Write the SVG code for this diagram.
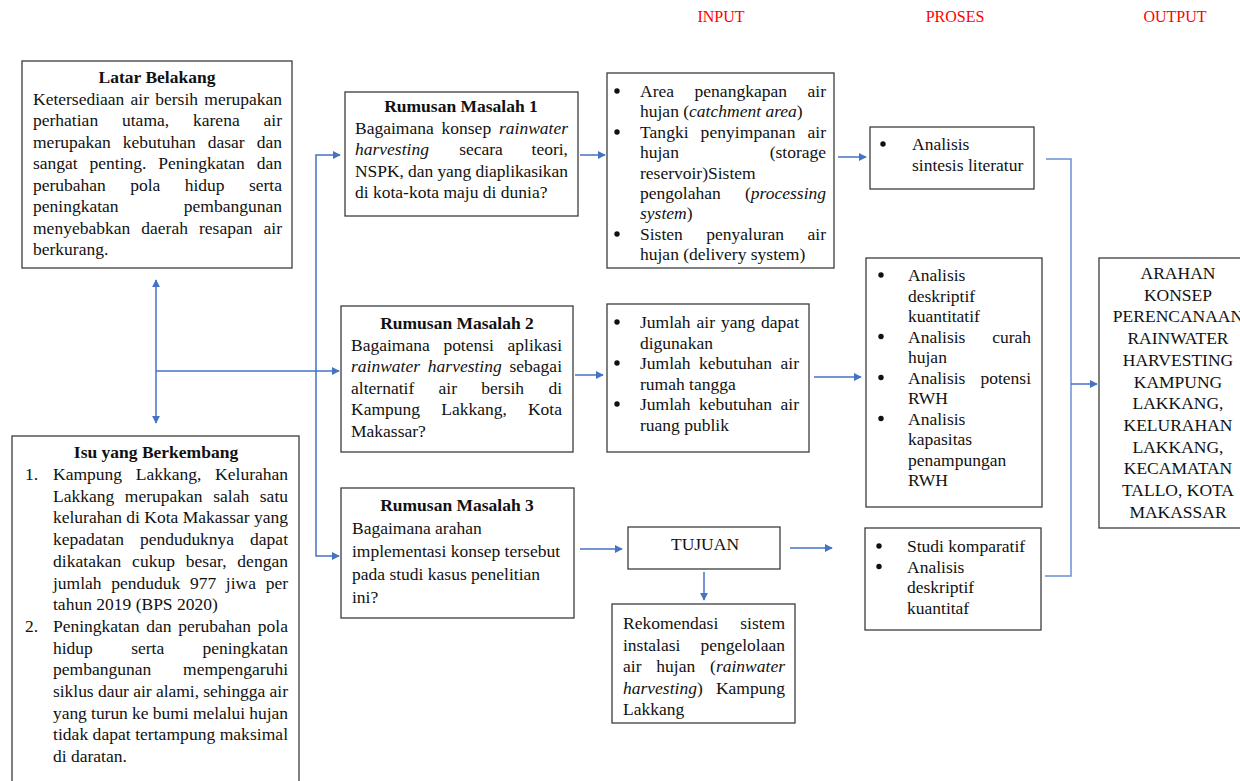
<svg xmlns="http://www.w3.org/2000/svg" width="1240" height="781" viewBox="0 0 1240 781">
<style>
.t{font-family:"Liberation Serif","Times New Roman",serif;font-size:17.5px;fill:#111}
.b{font-weight:bold}
.i{font-style:italic}
.c{text-anchor:middle}
.e{text-anchor:end}
.bu{fill:#111}
.h{font-family:"Liberation Serif","Times New Roman",serif;font-size:16px;fill:#ff0000;text-anchor:middle}
.box{fill:#fff;stroke:#3c3c3c;stroke-width:1.3}
.ln{fill:none;stroke:#4472c4;stroke-width:1.5}
.ln2{fill:none;stroke:#6a8fd4;stroke-width:1.5}
</style>
<defs>
<marker id="ah" viewBox="0 0 10 10" refX="9" refY="5" markerWidth="8" markerHeight="8" markerUnits="userSpaceOnUse" orient="auto-start-reverse">
<path d="M0,0 L10,5 L0,10 z" fill="#4472c4"/>
</marker>
</defs>
<rect width="1240" height="781" fill="#fff"/>

<g id="headings">
<text class="h" x="721" y="22">INPUT</text>
<text class="h" x="955" y="22">PROSES</text>
<text class="h" x="1175" y="22">OUTPUT</text>
</g>

<g id="connectors">
<path class="ln" d="M156,280 L156,423" marker-start="url(#ah)" marker-end="url(#ah)"/>
<path class="ln" d="M156,371 L339,371" marker-end="url(#ah)"/>
<path class="ln" d="M340,155 L316,155 L316,556 L339,556" marker-start="url(#ah)" marker-end="url(#ah)"/>
<path class="ln" d="M580,155 L605,155" marker-end="url(#ah)"/>
<path class="ln" d="M838,157 L866,157" marker-end="url(#ah)"/>
<path class="ln" d="M575,375 L603,375" marker-end="url(#ah)"/>
<path class="ln" d="M814,377 L861,377" marker-end="url(#ah)"/>
<path class="ln" d="M580,549 L622,549" marker-end="url(#ah)"/>
<path class="ln" d="M790,548 L832,548" marker-end="url(#ah)"/>
<path class="ln" d="M704,572 L704,600" marker-end="url(#ah)"/>
<path class="ln2" d="M1046,159 L1071,159 L1071,576 L1045,576"/>
<path class="ln" d="M1071,384 L1097,384" marker-end="url(#ah)"/>
</g>

<g id="latar-belakang">
<rect class="box" x="22" y="61" width="270" height="207"/>
<text class="t b c" x="157" y="83">Latar Belakang</text>
<text class="t" x="33" y="104.5" textLength="249" lengthAdjust="spacing" style="word-spacing:1.9px">Ketersediaan air bersih merupakan</text>
<text class="t" x="33" y="126" textLength="249" lengthAdjust="spacing" style="word-spacing:19.5px">perhatian utama, karena air</text>
<text class="t" x="33" y="147.5" textLength="249" lengthAdjust="spacing" style="word-spacing:7.7px">merupakan kebutuhan dasar dan</text>
<text class="t" x="33" y="169" textLength="249" lengthAdjust="spacing" style="word-spacing:7.5px">sangat penting. Peningkatan dan</text>
<text class="t" x="33" y="190.5" textLength="249" lengthAdjust="spacing" style="word-spacing:20px">perubahan pola hidup serta</text>
<text class="t" x="33" y="212">peningkatan</text><text class="t e" x="282" y="212">pembangunan</text>
<text class="t" x="33" y="233.5" textLength="249" lengthAdjust="spacing" style="word-spacing:6.7px">menyebabkan daerah resapan air</text>
<text class="t" x="33" y="255">berkurang.</text>
</g>

<g id="isu-berkembang">
<rect class="box" x="12" y="436" width="287" height="360"/>
<text class="t b c" x="156" y="458">Isu yang Berkembang</text>
<text class="t" x="25" y="480">1.</text>
<text class="t" x="53" y="480" textLength="235" lengthAdjust="spacing" style="word-spacing:9.4px">Kampung Lakkang, Kelurahan</text>
<text class="t" x="53" y="501.7" textLength="235" lengthAdjust="spacing" style="word-spacing:6.3px">Lakkang merupakan salah satu</text>
<text class="t" x="53" y="523.4" textLength="235" lengthAdjust="spacing">kelurahan di Kota Makassar yang</text>
<text class="t" x="53" y="545.1" textLength="235" lengthAdjust="spacing" style="word-spacing:11.6px">kepadatan penduduknya dapat</text>
<text class="t" x="53" y="566.8" textLength="235" lengthAdjust="spacing" style="word-spacing:6.4px">dikatakan cukup besar, dengan</text>
<text class="t" x="53" y="588.5" textLength="235" lengthAdjust="spacing" style="word-spacing:5.3px">jumlah penduduk 977 jiwa per</text>
<text class="t" x="53" y="610.2">tahun 2019 (BPS 2020)</text>
<text class="t" x="25" y="631.9">2.</text>
<text class="t" x="53" y="631.9" textLength="235" lengthAdjust="spacing" style="word-spacing:2.4px">Peningkatan dan perubahan pola</text>
<text class="t" x="53" y="653.6" textLength="235" lengthAdjust="spacing" style="word-spacing:33.9px">hidup serta peningkatan</text>
<text class="t" x="53" y="675.3">pembangunan</text><text class="t e" x="288" y="675.3">mempengaruhi</text>
<text class="t" x="53" y="697" textLength="235" lengthAdjust="spacing">siklus daur air alami, sehingga air</text>
<text class="t" x="53" y="718.7" textLength="235" lengthAdjust="spacing">yang turun ke bumi melalui hujan</text>
<text class="t" x="53" y="740.4" textLength="235" lengthAdjust="spacing">tidak dapat tertampung maksimal</text>
<text class="t" x="53" y="762.1">di daratan.</text>
</g>

<g id="rumusan-1">
<rect class="box" x="345" y="92" width="233" height="124"/>
<text class="t b c" x="461" y="112">Rumusan Masalah 1</text>
<text class="t" x="355" y="133.5" textLength="213" lengthAdjust="spacing" style="word-spacing:3.5px">Bagaimana konsep <tspan class="i">rainwater</tspan></text>
<text class="t i" x="355" y="155">harvesting</text><text class="t c" x="481" y="155">secara</text><text class="t e" x="568" y="155">teori,</text>
<text class="t" x="355" y="176.5" textLength="213" lengthAdjust="spacing">NSPK, dan yang diaplikasikan</text>
<text class="t" x="355" y="198">di kota-kota maju di dunia?</text>
</g>

<g id="rumusan-2">
<rect class="box" x="341" y="306" width="232" height="146"/>
<text class="t b c" x="457" y="329">Rumusan Masalah 2</text>
<text class="t" x="351" y="350.5" textLength="211" lengthAdjust="spacing" style="word-spacing:9.3px">Bagaimana potensi aplikasi</text>
<text class="t" x="351" y="372" textLength="211" lengthAdjust="spacing" style="word-spacing:3.4px"><tspan class="i">rainwater harvesting</tspan> sebagai</text>
<text class="t" x="351" y="393.5" textLength="211" lengthAdjust="spacing" style="word-spacing:19.9px">alternatif air bersih di</text>
<text class="t" x="351" y="415" textLength="211" lengthAdjust="spacing" style="word-spacing:16.8px">Kampung Lakkang, Kota</text>
<text class="t" x="351" y="436.5">Makassar?</text>
</g>

<g id="rumusan-3">
<rect class="box" x="341" y="488" width="233" height="130"/>
<text class="t b c" x="457" y="511">Rumusan Masalah 3</text>
<text class="t" x="352" y="534">Bagaimana arahan</text>
<text class="t" x="352" y="557">implementasi konsep tersebut</text>
<text class="t" x="352" y="580">pada studi kasus penelitian</text>
<text class="t" x="352" y="603">ini?</text>
</g>

<g id="input-1">
<rect class="box" x="607" y="73" width="227" height="195"/>
<circle class="bu" cx="617" cy="91" r="2.7"/>
<text class="t" x="640" y="97" textLength="186" lengthAdjust="spacing" style="word-spacing:16.2px">Area penangkapan air</text>
<text class="t" x="640" y="117.4">hujan (<tspan class="i">catchment area</tspan>)</text>
<circle class="bu" cx="617" cy="132" r="2.7"/>
<text class="t" x="640" y="137.8" textLength="186" lengthAdjust="spacing" style="word-spacing:7.5px">Tangki penyimpanan air</text>
<text class="t" x="640" y="158.2">hujan</text><text class="t e" x="826" y="158.2">(storage</text>
<text class="t" x="640" y="178.6">reservoir)Sistem</text>
<text class="t" x="640" y="199">pengolahan</text><text class="t e" x="826" y="199">(<tspan class="i">processing</tspan></text>
<text class="t" x="640" y="219.4"><tspan class="i">system</tspan>)</text>
<circle class="bu" cx="617" cy="234" r="2.7"/>
<text class="t" x="640" y="239.8" textLength="186" lengthAdjust="spacing" style="word-spacing:19.1px">Sisten penyaluran air</text>
<text class="t" x="640" y="260.2">hujan (delivery system)</text>
</g>

<g id="input-2">
<rect class="box" x="607" y="304" width="202" height="148"/>
<circle class="bu" cx="617" cy="322" r="2.7"/>
<text class="t" x="640" y="328" textLength="159" lengthAdjust="spacing" style="word-spacing:1.7px">Jumlah air yang dapat</text>
<text class="t" x="640" y="348.5">digunakan</text>
<circle class="bu" cx="617" cy="363" r="2.7"/>
<text class="t" x="640" y="369" textLength="159" lengthAdjust="spacing" style="word-spacing:4.2px">Jumlah kebutuhan air</text>
<text class="t" x="640" y="389.5">rumah tangga</text>
<circle class="bu" cx="617" cy="404" r="2.7"/>
<text class="t" x="640" y="410" textLength="159" lengthAdjust="spacing" style="word-spacing:4.2px">Jumlah kebutuhan air</text>
<text class="t" x="640" y="430.5">ruang publik</text>
</g>

<g id="tujuan">
<rect class="box" x="628" y="527" width="152" height="42"/>
<text class="t c" x="705" y="550">TUJUAN</text>
</g>

<g id="rekomendasi">
<rect class="box" x="612" y="604" width="183" height="119"/>
<text class="t" x="623" y="629">Rekomendasi</text><text class="t e" x="785" y="629">sistem</text>
<text class="t" x="623" y="650.5">instalasi</text><text class="t e" x="785" y="650.5">pengelolaan</text>
<text class="t" x="623" y="672" textLength="162" lengthAdjust="spacing" style="word-spacing:10.5px">air hujan (<tspan class="i">rainwater</tspan></text>
<text class="t" x="623" y="693.5"><tspan class="i">harvesting</tspan>)</text><text class="t e" x="785" y="693.5">Kampung</text>
<text class="t" x="623" y="715">Lakkang</text>
</g>

<g id="proses-1">
<rect class="box" x="870" y="127" width="164" height="62"/>
<circle class="bu" cx="883" cy="144" r="2.7"/>
<text class="t" x="912" y="150">Analisis</text>
<text class="t" x="912" y="171">sintesis literatur</text>
</g>

<g id="proses-2">
<rect class="box" x="866" y="258" width="176" height="249"/>
<circle class="bu" cx="881" cy="275" r="2.7"/>
<text class="t" x="908" y="281">Analisis</text>
<text class="t" x="908" y="301.5">deskriptif</text>
<text class="t" x="908" y="322">kuantitatif</text>
<circle class="bu" cx="881" cy="336.5" r="2.7"/>
<text class="t" x="908" y="342.5">Analisis</text><text class="t e" x="1031" y="342.5">curah</text>
<text class="t" x="908" y="363">hujan</text>
<circle class="bu" cx="881" cy="377.5" r="2.7"/>
<text class="t" x="908" y="383.5">Analisis</text><text class="t e" x="1031" y="383.5">potensi</text>
<text class="t" x="908" y="404">RWH</text>
<circle class="bu" cx="881" cy="418.5" r="2.7"/>
<text class="t" x="908" y="424.5">Analisis</text>
<text class="t" x="908" y="445">kapasitas</text>
<text class="t" x="908" y="465.5">penampungan</text>
<text class="t" x="908" y="486">RWH</text>
</g>

<g id="proses-3">
<rect class="box" x="865" y="528" width="176" height="102"/>
<circle class="bu" cx="879" cy="546" r="2.7"/>
<text class="t" x="907" y="552">Studi komparatif</text>
<circle class="bu" cx="879" cy="566.5" r="2.7"/>
<text class="t" x="907" y="572.5">Analisis</text>
<text class="t" x="907" y="593">deskriptif</text>
<text class="t" x="907" y="613.5">kuantitaf</text>
</g>

<g id="output">
<rect class="box" x="1099" y="258" width="160" height="270"/>
<text class="t c" x="1178" y="279">ARAHAN</text>
<text class="t c" x="1178" y="300.7">KONSEP</text>
<text class="t c" x="1178" y="322.4">PERENCANAAN</text>
<text class="t c" x="1178" y="344.1">RAINWATER</text>
<text class="t c" x="1178" y="365.8">HARVESTING</text>
<text class="t c" x="1178" y="387.5">KAMPUNG</text>
<text class="t c" x="1178" y="409.2">LAKKANG,</text>
<text class="t c" x="1178" y="430.9">KELURAHAN</text>
<text class="t c" x="1178" y="452.6">LAKKANG,</text>
<text class="t c" x="1178" y="474.3">KECAMATAN</text>
<text class="t c" x="1178" y="496">TALLO, KOTA</text>
<text class="t c" x="1178" y="517.7">MAKASSAR</text>
</g>
</svg>
